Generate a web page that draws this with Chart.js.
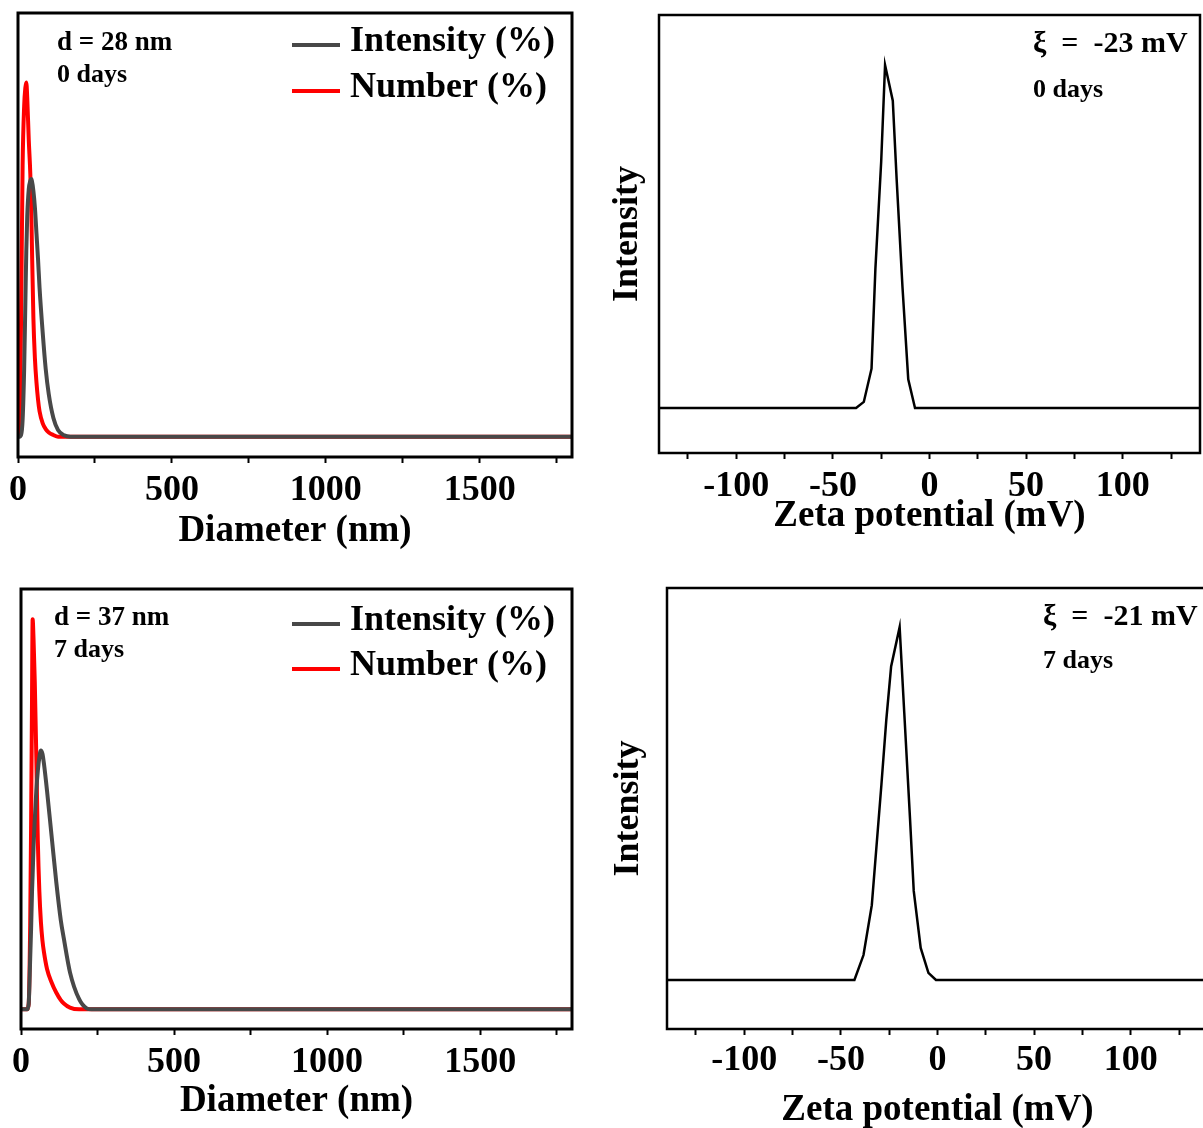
<!DOCTYPE html>
<html>
<head>
<meta charset="utf-8">
<title>DLS and zeta potential</title>
<script src="https://cdn.jsdelivr.net/npm/chart.js@4.4.0/dist/chart.umd.min.js"></script>
<style>
  html, body { margin: 0; padding: 0; background: #fff; width: 1203px; height: 1128px; overflow: hidden; }
  .panel { position: absolute; }
</style>
</head>
<body>
<div class="panel" style="left:0;top:0"><canvas id="dls0" width="600" height="554"></canvas></div>
<div class="panel" style="left:600px;top:0"><canvas id="zeta0" width="603" height="539"></canvas></div>
<div class="panel" style="left:0;top:560px"><canvas id="dls7" width="600" height="564"></canvas></div>
<div class="panel" style="left:600px;top:560px"><canvas id="zeta7" width="612" height="573"></canvas></div>
<script>
// size distribution, day 0 (diameter in nm)
const dia0 = [0, 5, 10, 15, 20, 24, 27, 30, 35, 40, 43, 45, 50, 55, 60, 65, 70, 80, 90, 100, 115, 130, 150, 170, 1800];
const intensity0 = [0, 0, 0.1, 1, 4, 8, 11, 13, 14.6, 15.1, 15.2, 15.1, 14.5, 13.5, 12, 10.5, 8.8, 6.2, 4.0, 2.5, 1.1, 0.4, 0.08, 0, 0];
const number0 = [0, 0.2, 7, 16, 19.5, 20.6, 20.9, 20, 17.5, 15.5, 13.5, 11.5, 7, 4.6, 3.2, 2.2, 1.5, 0.8, 0.45, 0.25, 0.1, 0, 0, 0, 0];

// size distribution, day 7
const dia7 = [0, 20, 25, 30, 33, 36, 38, 41, 45, 50, 55, 60, 65, 70, 75, 85, 100, 115, 130, 140, 160, 190, 215, 230, 1800];
const intensity7 = [0, 0, 0.3, 3, 4.8, 7, 8, 9.7, 11.3, 13, 14.2, 15, 15.4, 15.2, 14.6, 13, 10.3, 7.6, 5.3, 4.2, 2.2, 0.6, 0.05, 0, 0];
const number7 = [0, 0, 0.3, 5, 11, 18.5, 23.2, 22, 19.5, 15, 10, 7, 5.2, 4.1, 3.4, 2.4, 1.6, 1.0, 0.55, 0.35, 0.1, 0, 0, 0, 0];

// zeta potential (mV) vs intensity
const zeta0 = [-140, -38, -34, -30, -28, -25, -23, -19, -17, -14, -11, -7.5, 140];
const zInt0 = [0, 0, 1.7, 11, 39, 69, 96, 86, 64, 34, 8, 0, 0];
const zeta7 = [-140, -43, -38.3, -34, -29, -26.5, -24, -19.6, -17.2, -14.2, -12.3, -8.7, -4.7, -0.8, 140];
const zInt7 = [0, 0, 7, 21, 55, 73, 88, 99, 75, 45, 25, 9, 2, 0, 0];

const diaTicks = [0, 250, 500, 750, 1000, 1250, 1500, 1750];
const zetaTicks = [-125, -100, -75, -50, -25, 0, 25, 50, 75, 100, 125];
const seriesNames = ['Intensity (%)', 'Number (%)'];

const SERIF = '"Liberation Serif", "Times New Roman", serif';
const bold = size => ({ family: SERIF, size: size, weight: 'bold' });

// frame, notes and the hand-placed legend
const panelDecor = {
    id: 'panelDecor',
    afterDraw(chart, args, opts) {
        const ctx = chart.ctx;
        const a = chart.chartArea;
        ctx.save();
        ctx.strokeStyle = '#000';
        ctx.lineWidth = opts.frameWidth;
        ctx.strokeRect(a.left, a.top, a.right - a.left, a.bottom - a.top);
        ctx.fillStyle = '#000';
        ctx.textBaseline = 'middle';
        (opts.notes || []).forEach(n => {
            ctx.font = `bold ${n.size}px ${SERIF}`;
            ctx.fillText(n.text, n.x, n.y);
        });
        if (opts.legend) {
            const lg = opts.legend;
            chart.data.datasets.forEach((ds, i) => {
                const y = lg.y + i * lg.dy;
                ctx.strokeStyle = ds.borderColor;
                ctx.lineWidth = 4;
                ctx.beginPath();
                ctx.moveTo(lg.x, y);
                ctx.lineTo(lg.x + 48, y);
                ctx.stroke();
                ctx.font = `bold 36px ${SERIF}`;
                ctx.fillText(ds.label, lg.x + 58, y - 3);
            });
        }
        ctx.restore();
    }
};

function xAxis(cfg) {
    return {
        type: 'linear',
        min: cfg.min,
        max: cfg.max,
        afterBuildTicks: s => { s.ticks = cfg.ticks.map(v => ({ value: v })); },
        afterFit: s => { s.height = cfg.height; },
        border: { display: false },
        grid: { display: true, drawOnChartArea: false, drawTicks: true, tickLength: 6, tickWidth: 2, tickColor: '#000' },
        ticks: {
            autoSkip: false,
            maxRotation: 0,
            padding: cfg.pad,
            color: '#000',
            font: bold(36),
            callback: v => (v % cfg.every === 0 ? String(v) : '')
        },
        title: { display: true, text: cfg.title, color: '#000', font: bold(37), padding: 0 }
    };
}

function makeChart(id, cfg) {
    const datasets = cfg.series.map(s => ({
        label: s.label,
        data: cfg.xs.map((x, i) => ({ x: x, y: s.values[i] })),
        borderColor: s.color,
        borderWidth: s.width,
        pointRadius: 0,
        fill: false,
        cubicInterpolationMode: s.smooth ? 'monotone' : 'default',
        tension: 0
    }));
    const yAxis = cfg.yTitle ? {
        min: cfg.yMin, max: cfg.yMax,
        afterFit: s => { s.width = cfg.yWidth; },
        border: { display: false },
        grid: { display: false },
        ticks: { display: false },
        title: { display: true, text: cfg.yTitle, color: '#000', font: bold(36), padding: { top: cfg.yTitlePad, bottom: 0 } }
    } : { display: false, min: cfg.yMin, max: cfg.yMax };

    return new Chart(document.getElementById(id), {
        type: 'line',
        data: { datasets: datasets },
        options: {
            responsive: false,
            animation: false,
            layout: { padding: cfg.padding },
            scales: { x: xAxis(cfg.x), y: yAxis },
            plugins: {
                legend: { display: false },
                tooltip: { enabled: false },
                panelDecor: { frameWidth: cfg.frameWidth, notes: cfg.notes, legend: cfg.legend }
            }
        },
        plugins: [panelDecor]
    });
}

makeChart('dls0', {
    xs: dia0,
    series: [
        { label: seriesNames[0], values: intensity0, color: '#484848', width: 4, smooth: true },
        { label: seriesNames[1], values: number0, color: '#ff0000', width: 4, smooth: true }
    ],
    yMin: -1.2, yMax: 25,
    padding: { left: 18, top: 13, right: 28, bottom: 0 },
    x: { min: 0, max: 1800, ticks: diaTicks, every: 500, height: 97, pad: 6, title: 'Diameter (nm)' },
    frameWidth: 3,
    notes: [
        { text: 'd = 28 nm', x: 57, y: 43, size: 27 },
        { text: '0 days', x: 57, y: 75, size: 26 }
    ],
    legend: { x: 292, y: 45, dy: 46 }
});

makeChart('zeta0', {
    xs: zeta0,
    series: [{ label: 'Zeta', values: zInt0, color: '#000', width: 2.5, smooth: false }],
    yMin: -12.6, yMax: 110,
    yTitle: 'Intensity', yWidth: 59, yTitlePad: 6,
    padding: { left: 0, top: 15, right: 3, bottom: 0 },
    x: { min: -140, max: 140, ticks: zetaTicks, every: 50, height: 86, pad: 6, title: 'Zeta potential (mV)' },
    frameWidth: 2.5,
    notes: [
        { text: 'ξ  =  -23 mV', x: 433, y: 44, size: 30 },
        { text: '0 days', x: 433, y: 90, size: 26 }
    ]
});

makeChart('dls7', {
    xs: dia7,
    series: [
        { label: seriesNames[0], values: intensity7, color: '#484848', width: 4, smooth: true },
        { label: seriesNames[1], values: number7, color: '#ff0000', width: 4, smooth: true }
    ],
    yMin: -1.17, yMax: 25,
    padding: { left: 21, top: 29, right: 28, bottom: 0 },
    x: { min: 0, max: 1800, ticks: diaTicks, every: 500, height: 95, pad: 6, title: 'Diameter (nm)' },
    frameWidth: 3,
    notes: [
        { text: 'd = 37 nm', x: 54, y: 58, size: 27 },
        { text: '7 days', x: 54, y: 90, size: 26 }
    ],
    legend: { x: 292, y: 64, dy: 45 }
});

makeChart('zeta7', {
    xs: zeta7,
    series: [{ label: 'Zeta', values: zInt7, color: '#000', width: 2.5, smooth: false }],
    yMin: -13.75, yMax: 110,
    yTitle: 'Intensity', yWidth: 67, yTitlePad: 7,
    padding: { left: 0, top: 28, right: 4, bottom: 0 },
    x: { min: -140, max: 140, ticks: zetaTicks, every: 50, height: 104, pad: 4, title: 'Zeta potential (mV)' },
    frameWidth: 2.5,
    notes: [
        { text: 'ξ  =  -21 mV', x: 443, y: 57, size: 30 },
        { text: '7 days', x: 443, y: 101, size: 26 }
    ]
});
</script>
</body>
</html>
